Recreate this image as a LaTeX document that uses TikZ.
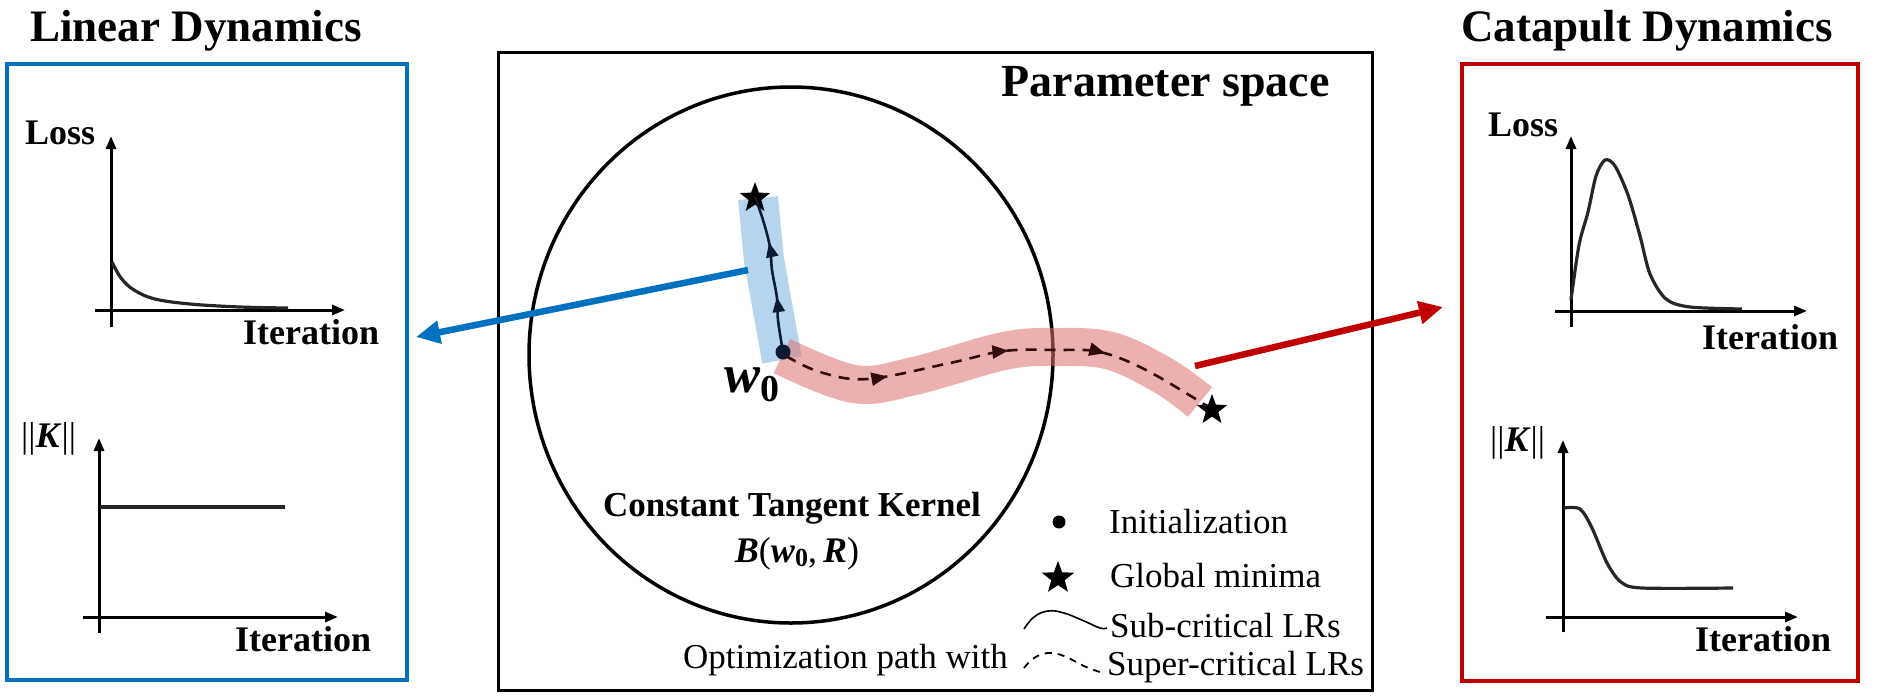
\documentclass[tikz,border=0pt]{standalone}
\usepackage{fontspec}
\setmainfont{Liberation Serif}
\usetikzlibrary{arrows.meta,shapes.geometric,decorations.markings}
\definecolor{cblue}{RGB}{0,112,192}
\definecolor{cred}{RGB}{192,0,0}
\definecolor{bandblue}{RGB}{180,213,237}
\definecolor{bandred}{RGB}{222,112,112}
\definecolor{pathnavy}{RGB}{10,28,50}
\definecolor{pathbrown}{RGB}{50,10,10}
\newcommand{\fsz}[1]{\fontsize{#1}{#1}\selectfont}
\tikzset{
  panelbox/.style={line width=4.5pt},
  axisline/.style={line width=3pt,-{Triangle[length=13pt,width=10pt]}},
  curveline/.style={line width=3.2pt,color=black!85},
  ttl/.style={font=\fsz{45}\bfseries,inner sep=0pt},
  lab/.style={font=\fsz{36}\bfseries,inner sep=0pt,anchor=base west},
  leg/.style={font=\fsz{35},inner sep=0pt,anchor=base west},
  minstar/.style={star,star points=5,star point ratio=2.4,fill=black,draw=none,minimum size=32pt,inner sep=0pt},
  bigarrow/.style={line width=6.5pt,-{Triangle[length=24pt,width=22pt]}},
}
\begin{document}
\begin{tikzpicture}[x=1pt,y=-1pt]
\useasboundingbox (0,0) rectangle (1877,699);

% ---------------- Left panel ----------------
\node[ttl,anchor=base] (ltitle) at (196,41) {Linear Dynamics};
\draw[panelbox,cblue] (7,64) rectangle (407,680);
\node[lab] (lloss) at (25,144) {Loss};
\draw[axisline] (111,327) -- (111,136);
\draw[axisline] (95,310) -- (345,310);
\node[lab] (lit1) at (243,344) {Iteration};
\draw[curveline] plot[smooth,tension=0.6] coordinates {(112,262) (121,278) (134,290) (155,299) (190,304) (240,307) (288,308)};
\node[lab,font=\fsz{36}] (lk) at (21,447) {||\textbf{\textit{K}}||};
\draw[axisline] (99,633) -- (99,438);
\draw[axisline] (83,617) -- (338,617);
\draw[curveline] (100,507) -- (285,507);
\node[lab] (lit2) at (235,651) {Iteration};

% ---------------- Right panel ----------------
\node[ttl,anchor=base] (rtitle) at (1647,41) {Catapult Dynamics};
\draw[panelbox,cred] (1462,64) rectangle (1858,681);
\node[lab] (rloss) at (1488,136) {Loss};
\draw[axisline] (1571,327) -- (1571,136);
\draw[axisline] (1555,311) -- (1807,311);
\node[lab] (rit1) at (1702,349) {Iteration};
\draw[curveline] plot[smooth,tension=0.5] coordinates {(1571,300) (1579,245) (1588,212) (1596,176) (1605,160) (1615,166) (1628,195) (1640,236) (1650,274) (1666,299) (1690,307) (1742,309)};
\node[lab,font=\fsz{36}] (rk) at (1490,451) {||\textbf{\textit{K}}||};
\draw[axisline] (1563,632) -- (1563,440);
\draw[axisline] (1546,617) -- (1798,617);
\draw[curveline] plot[smooth,tension=0.5] coordinates {(1564,508) (1580,509) (1592,528) (1607,563) (1621,582) (1642,588) (1733,588)};
\node[lab] (rit2) at (1695,651) {Iteration};

% ---------------- Middle panel ----------------
\draw[line width=3pt] (498,52) rectangle (1372,690);
\node[font=\fsz{46}\bfseries,inner sep=0pt,anchor=base east] (ptitle) at (1330,96) {Parameter space};
\draw[line width=3.5pt] (791,355) ellipse [x radius=262, y radius=268];
\node[font=\fsz{35}\bfseries,inner sep=0pt,anchor=base] (ctk) at (792,516) {Constant Tangent Kernel};
\node[font=\fsz{36},inner sep=0pt,anchor=base] (ball) at (797,562) {\textbf{\textit{B}}(\textbf{\textit{w}}\raisebox{-0.25ex}{\fsz{26}\textbf{0}},\,\textbf{\textit{R}})};

% bands
\draw[bandblue,line width=40pt] (758,198) -- (764,260) -- (782,360);
\draw[bandred,opacity=0.55,line width=38pt] plot[smooth,tension=0.6] coordinates {(782,356) (854,384) (914,376) (1004,351) (1057,347) (1111,351) (1164,376) (1200,402)};

% paths
\node[circle,fill=pathnavy,minimum size=15pt,inner sep=0pt] (w0) at (783,352) {};
\node[minstar] (s1) at (755,198) {};
\node[minstar] (s2) at (1212,410) {};
\draw[pathnavy,line width=2.6pt,
  postaction={decorate},
  decoration={markings,
    mark=at position 0.35 with {\arrow{Triangle[length=15pt,width=12pt]}},
    mark=at position 0.70 with {\arrow{Triangle[length=15pt,width=12pt]}}}]
  plot[smooth,tension=0.6] coordinates {(783,352) (778,320) (777,298) (772,270) (770,247) (763,220) (755,197)};
\draw[pathbrown,line width=2.6pt,dash pattern=on 11pt off 8pt,
  postaction={decorate},
  decoration={markings,
    mark=at position 0.24 with {\arrow{Triangle[length=16pt,width=13pt]}},
    mark=at position 0.52 with {\arrow{Triangle[length=16pt,width=13pt]}},
    mark=at position 0.74 with {\arrow{Triangle[length=16pt,width=13pt]}}}]
  plot[smooth,tension=0.6] coordinates {(786,356) (820,372) (868,379) (950,363) (1004,351) (1057,350) (1100,352) (1146,370) (1207,406)};
\node[font=\fsz{54}\bfseries\itshape,inner sep=0pt,anchor=base west] (wlab) at (724,392) {w\raisebox{-0.18em}{\fsz{38}\upshape 0}};

% connectors
\coordinate (bstart) at (748,270);
\coordinate (bend) at (416,337);
\draw[bigarrow,cblue] (bstart) -- (bend);
\coordinate (rstart) at (1195,366);
\coordinate (rend) at (1443,307);
\draw[bigarrow,cred] (rstart) -- (rend);

% legend
\node[circle,fill=black,minimum size=13pt,inner sep=0pt] (legdot) at (1059,522) {};
\node[leg] (linit) at (1109,533) {Initialization};
\node[minstar,minimum size=34pt] (legstar) at (1058,578) {};
\node[leg] (lglob) at (1110,587) {Global minima};
\draw[line width=1.6pt] plot[smooth,tension=0.7] coordinates {(1024,629) (1034,617) (1048,611) (1064,613) (1084,621) (1100,628) (1107,628)};
\node[leg] (lsub) at (1110,637) {Sub-critical LRs};
\draw[line width=1.8pt,dash pattern=on 7pt off 6pt] plot[smooth,tension=0.7] coordinates {(1024,668) (1034,658) (1048,653) (1064,656) (1084,666) (1100,672) (1105,672)};
\node[leg] (lsup) at (1107,675) {Super-critical LRs};
\node[leg,anchor=base east] (lopt) at (1008,668) {Optimization path with};
\end{tikzpicture}
\end{document}
